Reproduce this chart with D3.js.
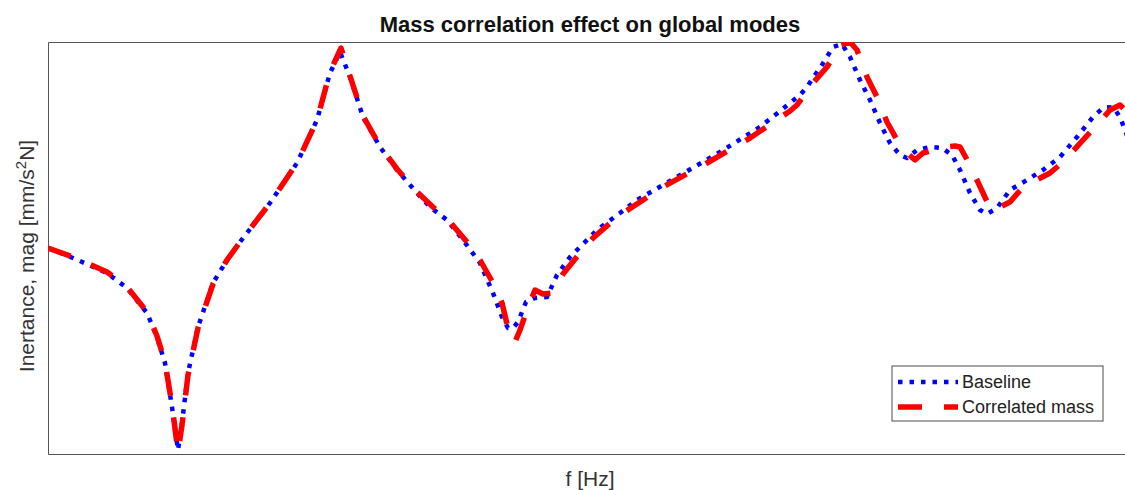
<!DOCTYPE html>
<html>
<head>
<meta charset="utf-8">
<script src="https://d3js.org/d3.v7.min.js"></script>
<style>
  body { margin: 0; background: #fff; }
  text { font-family: "Liberation Sans", Arial, sans-serif; }
</style>
</head>
<body>
<div id="chart"></div>
<script>

// frequency (arbitrary units) and magnitude (arbitrary units, larger = higher)
var freqBase = [0,25,59,79,99,109,117,124,130,134,140,150,165,179,192,222,249,269,282,292,302,315,332,349,369,382,399,415,432,445,454,460,465,470,474,478,487,499,509,522,549,572,589,629,672,712,742,752,759,767,774,785,794,802,812,822,832,842,852,859,869,882,894,904,912,922,932,939,949,962,979,995,1012,1029,1045,1055,1065,1072,1077,1084];
var magBase  = [206,196,181,166,141,117,91,47,4,31,81,127,171,194,212,251,291,334,381,402,377,337,307,284,261,247,234,214,191,161,137,126,126,132,142,152,156,157,179,197,224,241,254,277,302,327,351,359,367,379,389,407,410,397,374,354,331,311,299,296,304,307,306,299,284,261,244,240,246,264,274,284,297,317,337,346,347,337,324,304];
var freqCorr = [0,25,59,79,99,109,117,124,130,134,140,150,165,179,192,222,249,269,282,293,302,315,332,349,369,385,402,419,432,445,454,460,467,472,479,487,495,504,515,532,545,569,615,659,702,742,749,765,779,792,802,809,819,829,839,849,859,867,875,885,897,907,912,922,935,943,952,962,975,1002,1015,1035,1049,1062,1072,1077,1084];
var magCorr  = [206,197,182,167,142,118,92,49,2,29,79,126,170,194,212,251,291,334,382,406,378,338,308,285,262,247,232,212,194,171,151,126,112,124,144,164,160,161,180,201,216,237,267,291,316,343,349,371,387,409,412,404,377,357,332,314,301,294,301,304,307,308,307,289,261,244,247,252,267,281,292,314,329,344,349,344,329];

var titleText = "Mass correlation effect on global modes",
    xLabelText = "f [Hz]",
    seriesNames = ["Baseline", "Correlated mass"];

var width = 1125, height = 490;
var plot = {left: 48, top: 42, right: 1132, bottom: 454};

var x = d3.scaleLinear().domain([0, 1084]).range([plot.left, plot.right]);
var y = d3.scaleLinear().domain([0, 412]).range([plot.bottom, plot.top]);

var svg = d3.select("#chart").append("svg")
    .attr("width", width)
    .attr("height", height);

svg.append("defs").append("clipPath")
    .attr("id", "plotclip")
    .append("rect")
    .attr("x", plot.left)
    .attr("y", plot.top)
    .attr("width", plot.right - plot.left)
    .attr("height", plot.bottom - plot.top);

// axes box, no ticks
svg.append("g")
    .attr("transform", "translate(0," + plot.bottom + ")")
    .call(d3.axisBottom(x).tickValues([]).tickSizeOuter(0))
    .select(".domain").attr("stroke", "#555");
svg.append("g")
    .attr("transform", "translate(" + plot.left + ",0)")
    .call(d3.axisLeft(y).tickValues([]).tickSizeOuter(0))
    .select(".domain").attr("stroke", "#555");
svg.append("g")
    .attr("transform", "translate(0," + plot.top + ")")
    .call(d3.axisTop(x).tickValues([]).tickSizeOuter(0))
    .select(".domain").attr("stroke", "#555");

var line = d3.line()
    .x(function(d){ return x(d[0]); })
    .y(function(d){ return y(d[1]); });

var series = [
    {name: seriesNames[0], pts: d3.zip(freqBase, magBase), color: "#0000ff", width: 4.5, dash: "4.5,7"},
    {name: seriesNames[1], pts: d3.zip(freqCorr, magCorr), color: "#ff0000", width: 5.5, dash: "24,22"}
];

var lines = svg.append("g").attr("clip-path", "url(#plotclip)");
series.forEach(function(s){
    lines.append("path")
        .datum(s.pts)
        .attr("fill", "none")
        .attr("stroke", s.color)
        .attr("stroke-width", s.width)
        .attr("stroke-dasharray", s.dash)
        .attr("stroke-linejoin", "round")
        .attr("d", line);
});

// title and labels
svg.append("text")
    .attr("x", (plot.left + plot.right) / 2)
    .attr("y", 32)
    .attr("text-anchor", "middle")
    .attr("font-size", 22)
    .attr("font-weight", "bold")
    .attr("fill", "#111")
    .text(titleText);

svg.append("text")
    .attr("x", (plot.left + plot.right) / 2)
    .attr("y", 486)
    .attr("text-anchor", "middle")
    .attr("font-size", 21)
    .attr("fill", "#333")
    .text(xLabelText);

var yl = svg.append("text")
    .attr("transform", "translate(34," + ((plot.top + plot.bottom) / 2 + 8) + ") rotate(-90)")
    .attr("text-anchor", "middle")
    .attr("font-size", 21)
    .attr("fill", "#333");
yl.append("tspan").text("Inertance, mag [mm/s");
yl.append("tspan").attr("font-size", 15).attr("dy", -8).text("2");
yl.append("tspan").attr("dy", 8).text("N]");

// legend
var legend = svg.append("g").attr("transform", "translate(892,366)");
legend.append("rect")
    .attr("width", 211)
    .attr("height", 55)
    .attr("fill", "#fff")
    .attr("stroke", "#4d4d4d")
    .attr("stroke-width", 1);

var items = legend.selectAll("g.item")
    .data(series)
    .enter()
    .append("g")
    .attr("class", "item")
    .attr("transform", function(d,i){
        return "translate(0," + (16 + i * 25) + ")";
    });
items.append("line")
    .attr("x1", 6)
    .attr("x2", 66)
    .attr("stroke", function(d){ return d.color; })
    .attr("stroke-width", function(d){ return d.width; })
    .attr("stroke-dasharray", function(d){ return d.dash; });
items.append("text")
    .attr("x", 70)
    .attr("dy", "0.35em")
    .attr("font-size", 18)
    .attr("fill", "#222")
    .text(function(d){ return d.name; });

</script>
</body>
</html>
